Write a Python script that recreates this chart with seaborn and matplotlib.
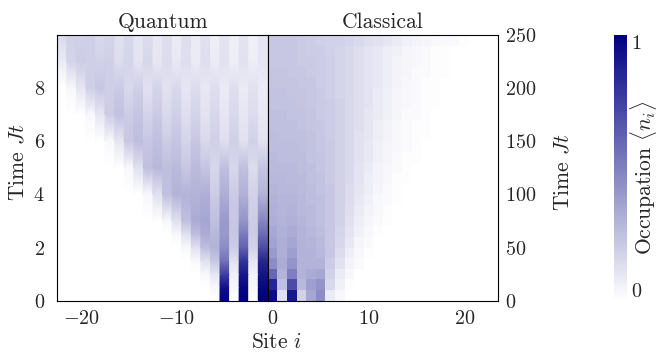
import numpy as np
import pandas as pd
import matplotlib
matplotlib.use("Agg")
import matplotlib.pyplot as plt
from matplotlib.colors import Normalize
import seaborn as sns

# ---------------- data ----------------
quantum_sites = list(range(-22, 0))
quantum_times = [0, 0.5, 1, 1.5, 2, 2.5, 3, 4, 5, 6, 7, 8, 9, 10]
quantum_occ = [
    [0]*17 + [1, 0, 1, 0, 1],
    [0]*15 + [0.00, 0.03, 0.93, 0.03, 0.97, 0.03, 0.97],
    [0]*14 + [0.00, 0.03, 0.10, 0.75, 0.06, 0.90, 0.05, 0.92],
    [0]*13 + [0.00, 0.03, 0.12, 0.22, 0.55, 0.12, 0.80, 0.10, 0.85],
    [0]*12 + [0.00, 0.03, 0.12, 0.25, 0.30, 0.45, 0.20, 0.62, 0.18, 0.70],
    [0]*11 + [0.00, 0.03, 0.12, 0.25, 0.33, 0.28, 0.40, 0.22, 0.52, 0.20, 0.58],
    [0]*10 + [0.00, 0.03, 0.12, 0.25, 0.33, 0.35, 0.25, 0.40, 0.22, 0.42, 0.20, 0.48],
    [0]*8 + [0.00, 0.03, 0.12, 0.25, 0.30, 0.30, 0.30, 0.32, 0.20, 0.32, 0.21, 0.31, 0.18, 0.30],
    [0]*6 + [0.00, 0.03, 0.12, 0.25, 0.28, 0.25, 0.27, 0.22, 0.27, 0.23, 0.16, 0.25, 0.16, 0.25, 0.14, 0.23],
    [0]*4 + [0.00, 0.03, 0.10, 0.22, 0.26, 0.22, 0.25, 0.20, 0.23, 0.17, 0.22, 0.15, 0.19, 0.13, 0.19, 0.12, 0.18, 0.12],
    [0]*2 + [0.00, 0.03, 0.10, 0.20, 0.24, 0.20, 0.23, 0.17, 0.21, 0.15, 0.19, 0.13, 0.17, 0.11, 0.16, 0.10, 0.15, 0.10, 0.14, 0.09],
    [0.00, 0.03, 0.10, 0.19, 0.22, 0.19, 0.21, 0.15, 0.19, 0.12, 0.17, 0.12, 0.15, 0.10, 0.14, 0.09, 0.13, 0.08, 0.13, 0.08, 0.12, 0.08],
    [0.08, 0.17, 0.20, 0.19, 0.18, 0.19, 0.14, 0.17, 0.11, 0.16, 0.10, 0.14, 0.09, 0.13, 0.08, 0.13, 0.08, 0.12, 0.07, 0.12, 0.07, 0.10],
    [0.15, 0.19, 0.18, 0.19, 0.15, 0.17, 0.12, 0.16, 0.10, 0.14, 0.09, 0.13, 0.08, 0.13, 0.08, 0.12, 0.07, 0.11, 0.07, 0.11, 0.06, 0.10],
]

classical_sites = list(range(0, 24))
classical_time_edges = list(range(0, 251, 10))
classical_occ = [
    [0.95, 0.12, 0.90, 0.18, 0.35, 0.45, 0.08, 0.03],
    [0.85, 0.25, 0.70, 0.28, 0.38, 0.42, 0.15, 0.06, 0.01],
    [0.60, 0.30, 0.50, 0.30, 0.33, 0.35, 0.18, 0.08, 0.03],
    [0.45, 0.33, 0.42, 0.30, 0.30, 0.30, 0.20, 0.12, 0.05, 0.02],
    [0.40, 0.32, 0.38, 0.30, 0.30, 0.28, 0.22, 0.14, 0.07, 0.03, 0.01],
    [0.36, 0.32, 0.35, 0.30, 0.29, 0.27, 0.22, 0.16, 0.09, 0.04, 0.02],
    [0.34, 0.31, 0.33, 0.30, 0.28, 0.26, 0.22, 0.17, 0.11, 0.06, 0.03, 0.01],
    [0.32, 0.30, 0.31, 0.29, 0.27, 0.25, 0.22, 0.18, 0.12, 0.07, 0.04, 0.02, 0.01],
    [0.31, 0.29, 0.30, 0.28, 0.27, 0.25, 0.22, 0.18, 0.13, 0.08, 0.05, 0.03, 0.01],
    [0.30, 0.29, 0.29, 0.28, 0.26, 0.25, 0.22, 0.18, 0.14, 0.09, 0.06, 0.03, 0.02, 0.01],
    [0.29, 0.28, 0.28, 0.27, 0.26, 0.24, 0.22, 0.18, 0.14, 0.10, 0.07, 0.04, 0.02, 0.01],
    [0.28, 0.28, 0.27, 0.27, 0.25, 0.24, 0.21, 0.18, 0.15, 0.11, 0.07, 0.05, 0.03, 0.01, 0.01],
    [0.27, 0.27, 0.27, 0.26, 0.25, 0.23, 0.21, 0.18, 0.15, 0.11, 0.08, 0.05, 0.03, 0.02, 0.01],
    [0.27, 0.26, 0.26, 0.26, 0.24, 0.23, 0.21, 0.18, 0.15, 0.12, 0.09, 0.06, 0.04, 0.02, 0.01, 0.01],
    [0.26, 0.26, 0.26, 0.25, 0.24, 0.22, 0.21, 0.18, 0.15, 0.12, 0.09, 0.06, 0.04, 0.03, 0.02, 0.01],
    [0.26, 0.25, 0.25, 0.25, 0.24, 0.22, 0.20, 0.18, 0.15, 0.12, 0.10, 0.07, 0.05, 0.03, 0.02, 0.01, 0.01],
    [0.25, 0.25, 0.25, 0.24, 0.23, 0.22, 0.20, 0.18, 0.15, 0.13, 0.10, 0.07, 0.05, 0.03, 0.02, 0.01, 0.01],
    [0.25, 0.25, 0.24, 0.24, 0.23, 0.21, 0.20, 0.18, 0.15, 0.13, 0.10, 0.08, 0.06, 0.04, 0.02, 0.02, 0.01],
    [0.24, 0.24, 0.24, 0.23, 0.22, 0.21, 0.20, 0.18, 0.15, 0.13, 0.11, 0.08, 0.06, 0.04, 0.03, 0.02, 0.01, 0.01],
    [0.24, 0.24, 0.23, 0.23, 0.22, 0.21, 0.19, 0.17, 0.15, 0.13, 0.11, 0.08, 0.06, 0.04, 0.03, 0.02, 0.01, 0.01],
    [0.23, 0.23, 0.23, 0.22, 0.22, 0.20, 0.19, 0.17, 0.15, 0.13, 0.11, 0.09, 0.07, 0.05, 0.03, 0.02, 0.01, 0.01],
    [0.23, 0.23, 0.22, 0.22, 0.21, 0.20, 0.19, 0.17, 0.15, 0.13, 0.11, 0.09, 0.07, 0.05, 0.04, 0.02, 0.02, 0.01, 0.01],
    [0.22, 0.22, 0.22, 0.21, 0.21, 0.20, 0.19, 0.17, 0.15, 0.13, 0.11, 0.09, 0.07, 0.05, 0.04, 0.03, 0.02, 0.01, 0.01],
    [0.22, 0.22, 0.22, 0.21, 0.20, 0.20, 0.18, 0.17, 0.15, 0.13, 0.11, 0.09, 0.07, 0.06, 0.04, 0.03, 0.02, 0.01, 0.01],
    [0.22, 0.22, 0.22, 0.21, 0.20, 0.19, 0.18, 0.18, 0.17, 0.15, 0.13, 0.12, 0.10, 0.08, 0.06, 0.05, 0.04, 0.03, 0.02, 0.02, 0.01],
]

quantum_xticks = [-20, -10]
classical_xticks = [0, 10, 20]
quantum_yticks = [0, 2, 4, 6, 8]
classical_yticks = [0, 50, 100, 150, 200, 250]
cbar_ticks = [0, 1]

# ---------------- style ----------------
sns.set_theme(style="white")
plt.rcParams.update({
    "font.family": "serif",
    "font.serif": ["cmr10"],
    "mathtext.fontset": "cm",
    "axes.formatter.use_mathtext": True,
    "axes.edgecolor": "black",
    "axes.linewidth": 0.8,
})
cmap = sns.blend_palette(["white", "navy"], as_cmap=True)
TICK_FS = 14.5
LAB_FS = 15.5

W, H = 660, 356
fig = plt.figure(figsize=(W / 100, H / 100), dpi=100)
x0, xm, x1 = 57.3, 267.9, 497.7
ytop, ybot = 35.0, 300.7
b = 1 - ybot / H
h = (ybot - ytop) / H
axL = fig.add_axes([x0 / W, b, (xm - x0) / W, h])
axR = fig.add_axes([xm / W, b, (x1 - xm) / W, h])
cax = fig.add_axes([614 / W, b, 13.3 / W, h])

# ---- quantum half: smooth in time, crisp per site ----
Q = np.array(quantum_occ, dtype=float)
xs, cols = [], []
for j, s in enumerate(quantum_sites):
    xs += [s - 0.5, s + 0.5 - 1e-3]
    cols += [j, j]
axL.pcolormesh(np.array(xs), np.array(quantum_times), Q[:, cols],
               shading="gouraud", cmap=cmap, vmin=0, vmax=1, rasterized=True)
axL.set_xlim(quantum_sites[0] - 0.5, quantum_sites[-1] + 0.5)
axL.set_ylim(quantum_times[0], quantum_times[-1])
axL.set_xticks(quantum_xticks)
axL.set_xticklabels([f"${v}$" for v in quantum_xticks])
axL.set_yticks(quantum_yticks)
axL.set_yticklabels([f"${v}$" for v in quantum_yticks])
axL.tick_params(axis="both", length=0, labelsize=TICK_FS)
axL.tick_params(axis="y", pad=9)
axL.tick_params(axis="x", pad=7)
axL.set_title("Quantum", fontsize=LAB_FS, pad=5)

# ---- classical half: seaborn heatmap ----
C = np.zeros((len(classical_occ), len(classical_sites)))
for i, row in enumerate(classical_occ):
    C[i, :len(row)] = row
df = pd.DataFrame(C, index=classical_time_edges[:-1], columns=classical_sites)
sns.heatmap(df, ax=axR, cmap=cmap, vmin=0, vmax=1, cbar=False,
            xticklabels=False, yticklabels=False, rasterized=True)
dt = classical_time_edges[1] - classical_time_edges[0]
axR.set_ylim(0, len(C))
axR.set_xlim(0, len(classical_sites))
for sp in axR.spines.values():
    sp.set_visible(True)
    sp.set_color("black")
    sp.set_linewidth(0.8)
axR.set_xticks([classical_sites.index(v) + 0.5 for v in classical_xticks])
axR.set_xticklabels([f"${v}$" for v in classical_xticks])
axR.yaxis.tick_right()
axR.set_yticks([v / dt for v in classical_yticks])
axR.set_yticklabels([f"${v}$" for v in classical_yticks])
axR.tick_params(axis="both", length=0, labelsize=TICK_FS)
axR.tick_params(axis="y", pad=5, labelrotation=0)
axR.tick_params(axis="x", pad=7, labelrotation=0)
axR.set_title("Classical", fontsize=LAB_FS, pad=5)
axR.set_xlabel("")
axR.set_ylabel("")

# ---- labels ----
fig.text(277 / W, 1 - 342 / H, "Site $i$", fontsize=LAB_FS, ha="center", va="center")
fig.text(18 / W, 1 - 162 / H, "Time $Jt$", fontsize=LAB_FS, rotation=90, ha="center", va="center")
fig.text(563 / W, 1 - 172 / H, "Time $Jt$", fontsize=LAB_FS, rotation=90, ha="center", va="center")

# ---- colorbar ----
sm = matplotlib.cm.ScalarMappable(norm=Normalize(0, 1), cmap=cmap)
cb = fig.colorbar(sm, cax=cax, ticks=cbar_ticks)
cb.outline.set_visible(False)
cb.ax.set_yticklabels([f"${v}$" for v in cbar_ticks])
cax.tick_params(length=0, pad=3, labelsize=TICK_FS)
labs = cax.get_yticklabels()
labs[0].set_va("bottom")
labs[-1].set_va("top")
fig.text(644 / W, 1 - 178 / H, r"Occupation $\langle n_i\rangle$", fontsize=LAB_FS,
         rotation=90, ha="center", va="center")

fig.savefig("out.png", dpi=100)
